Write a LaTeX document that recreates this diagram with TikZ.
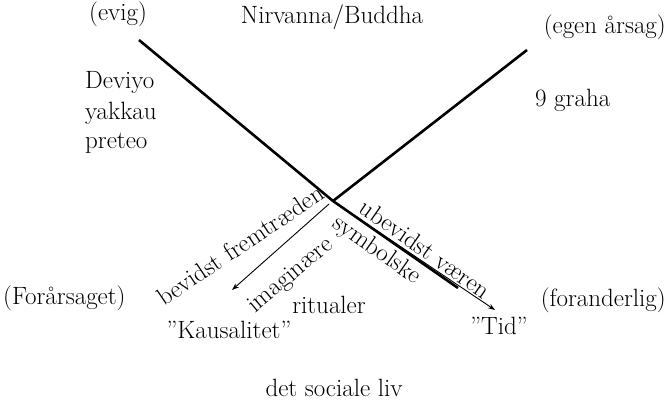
\documentclass[tikz,border=0pt]{standalone}
\usepackage{tikz}
\usetikzlibrary{arrows.meta}

\begin{document}
\begin{tikzpicture}[x=1pt, y=-1pt,
    every node/.style={font=\fontsize{25}{29}\selectfont, inner sep=0pt}]
  \useasboundingbox (0,0) rectangle (667,411);

  % Coordinates (pixels, y downwards)
  \coordinate (evigEnd) at (139,40);
  \coordinate (egenEnd) at (527,50);
  \coordinate (kryds) at (333,201);
  \coordinate (tykEnd) at (458,288);
  \coordinate (kausalStart) at (329,204);
  \coordinate (kausalPil) at (232,290);
  \coordinate (tidStart) at (352,214);
  \coordinate (tidPil) at (495,310);

  % Cross (black)
  \draw[line width=2.6pt] (evigEnd) -- (kryds) -- (tykEnd);
  \draw[line width=2.6pt] (egenEnd) -- (kryds);

  % Arrows (thin)
  \draw[line width=0.9pt, -{Stealth[length=7pt,width=5pt]}] (kausalStart) -- (kausalPil);
  \draw[line width=0.9pt, -{Stealth[length=7pt,width=5pt]}] (tidStart) -- (tidPil);

  % Labels
  \node (evig) at (118,14) {(evig)};
  \node (nirvana) at (332,17) {Nirvanna/Buddha};
  \node[anchor=east] (egen) at (666,27) {(egen årsag)};
  \node[anchor=west] (deviyo) at (85,83) {Deviyo};
  \node[anchor=west] (yakkau) at (85,113) {yakkau};
  \node[anchor=west] (preteo) at (85,143) {preteo};
  \node[anchor=west] (graha) at (535,100) {9 graha};
  \node[rotate=34, anchor=south east] (bevidst) at (326,198) {bevidst fremtræden};
  \node[rotate=40] (imaginaere) at (291,276) {imaginære};
  \node[rotate=-35, anchor=south] (ubevidst) at (420,256) {ubevidst væren};
  \node[rotate=-35, anchor=north] (symbolske) at (383,241) {symbolske};
  \node[anchor=west] (foraarsaget) at (3,298) {(Forårsaget)};
  \node (kausalitet) at (229,330) {''Kausalitet''};
  \node (ritualer) at (329,305) {ritualer};
  \node[anchor=east] (foranderlig) at (666,300) {(foranderlig)};
  \node (tid) at (499,326) {''Tid''};
  \node (sociale) at (334,388) {det sociale liv};
\end{tikzpicture}
\end{document}
